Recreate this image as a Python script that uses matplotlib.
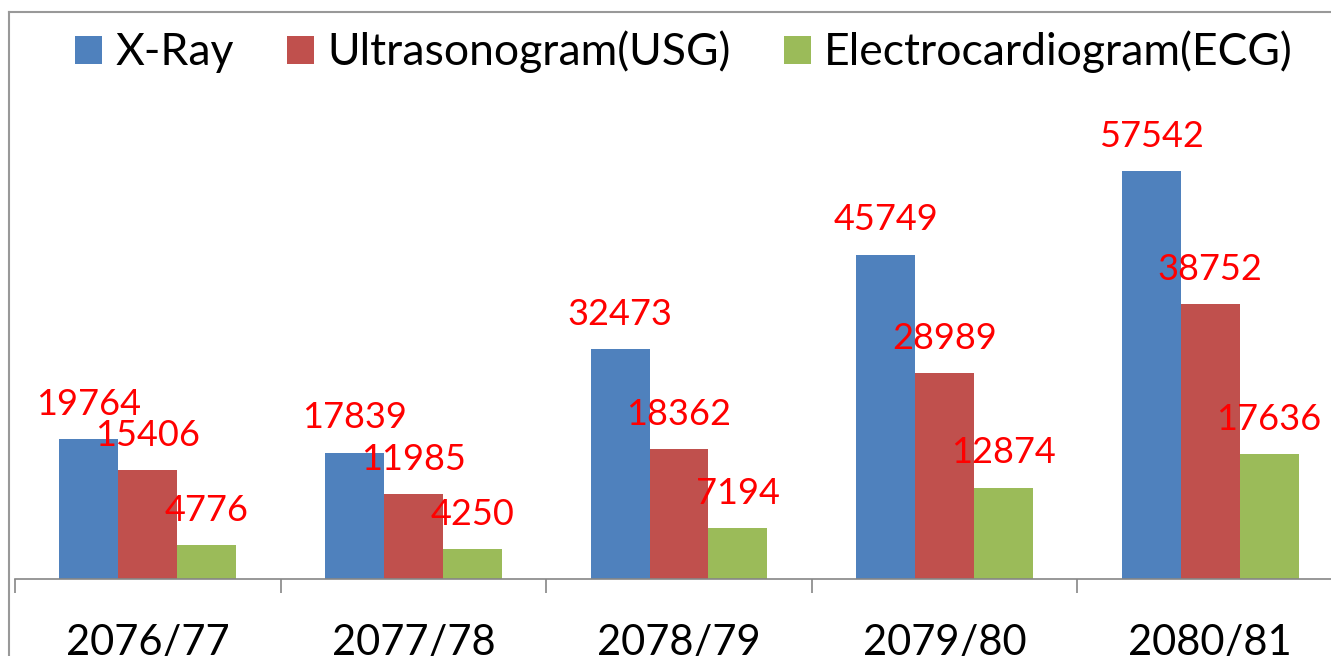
import numpy as np
import matplotlib.pyplot as plt
from matplotlib.lines import Line2D

years = ['2076/77', '2077/78', '2078/79', '2079/80', '2080/81']
xray = [19764, 17839, 32473, 45749, 57542]
usg = [15406, 11985, 18362, 28989, 38752]
ecg = [4776, 4250, 7194, 12874, 17636]
series_names = ['X-Ray', 'Ultrasonogram(USG)', 'Electrocardiogram(ECG)']
colors = ['#4F81BD', '#C0504D', '#9BBB59']

plt.rcParams['font.family'] = ['Lato', 'DejaVu Sans']

W, H = 1331, 656
fig = plt.figure(figsize=(W / 100, H / 100), dpi=100)
ax = fig.add_axes([15 / W, (H - 579) / H, 1328 / W, 479 / H])

x = np.arange(len(years)) + 0.5
bw = 0.222
handles = []
for i, (vals, name, c) in enumerate(zip([xray, usg, ecg], series_names, colors)):
    b = ax.bar(x + (i - 1) * bw, vals, bw, color=c, label=name, zorder=2)
    handles.append(b)
    for xi, v in zip(x + (i - 1) * bw, vals):
        ax.annotate(str(v), (xi, v), xytext=(0, 25), textcoords='offset points',
                    ha='center', va='center', color='red', fontsize=26)

ax.set_xlim(0, 5)
ax.set_ylim(0, 479 / 408 * 57542)
for s in ['top', 'right', 'left']:
    ax.spines[s].set_visible(False)
ax.spines['bottom'].set_color('#868686')
ax.spines['bottom'].set_linewidth(1.2)
ax.set_yticks([])
ax.set_xticks(range(6))
ax.set_xticklabels([])
ax.tick_params(axis='x', which='major', length=10, width=1.2, color='#868686')
ax.set_xticks(x, minor=True)
ax.set_xticklabels(years, minor=True, fontsize=30)
ax.tick_params(axis='x', which='minor', length=0, pad=32)

fig.legend(handles=handles, labels=series_names, loc='center', bbox_to_anchor=(0.514, 1 - 52 / H),
           ncol=3, frameon=False, fontsize=32, handlelength=0.6, handleheight=0.6,
           handletextpad=0.3, columnspacing=1.2)

# chart frame (only left and top edges fall inside the crop)
fig.add_artist(Line2D([9 / W, 9 / W], [0, 1 - 12 / H], color='#999999', lw=1.5))
fig.add_artist(Line2D([9 / W, 1], [1 - 12 / H, 1 - 12 / H], color='#999999', lw=1.5))

fig.savefig('out.png', dpi=100)
